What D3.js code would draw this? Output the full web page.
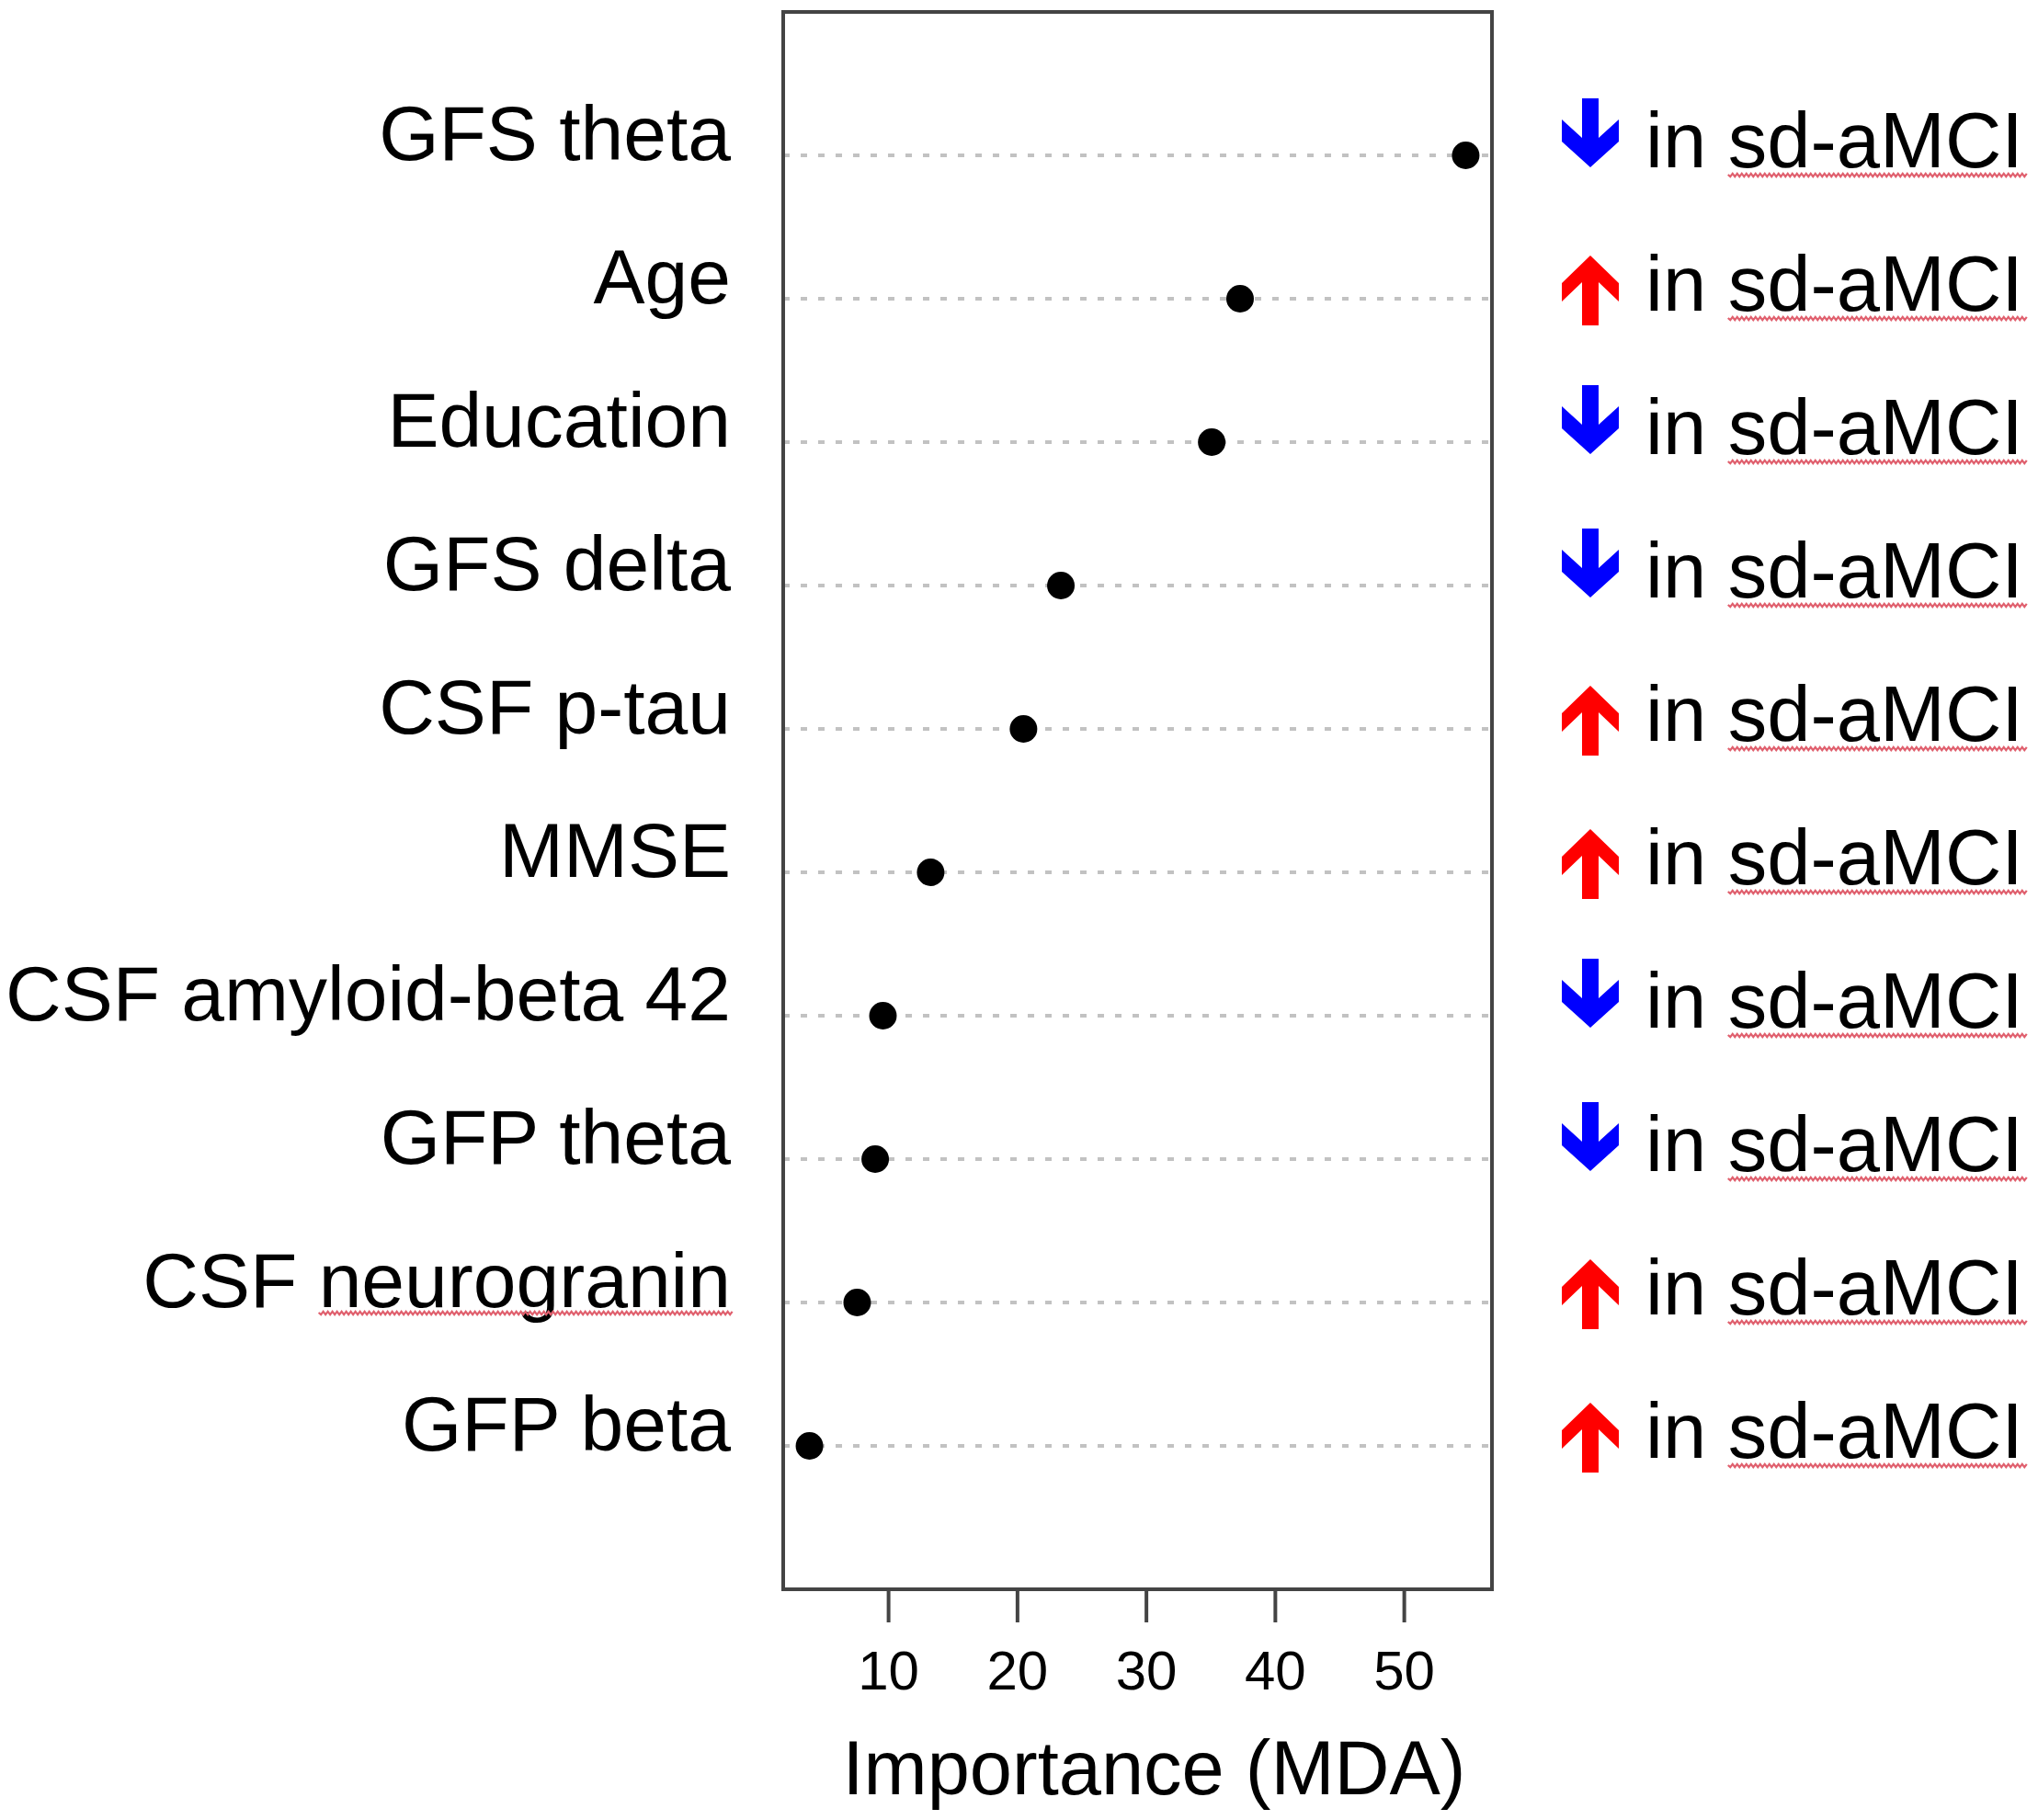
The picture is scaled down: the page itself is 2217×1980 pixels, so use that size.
<!DOCTYPE html>
<html>
<head>
<meta charset="utf-8">
<script src="https://cdn.jsdelivr.net/npm/d3@7"></script>
<style>
    body { margin: 0; background: #fff; }
    text { font-family: "Liberation Sans", Arial, sans-serif; fill: #000; }
</style>
</head>
<body>
<div id="grafico"></div>
<script>
// valores (dotchart de importancia)
const features = ["GFS theta", "Age", "Education", "GFS delta", "CSF p-tau", "MMSE",
    "CSF amyloid-beta 42", "GFP theta", "CSF neurogranin", "GFP beta"];
const importance = [54.8, 37.3, 35.1, 23.4, 20.5, 13.3, 9.6, 9.0, 7.6, 3.9];
const direction = ["down", "up", "down", "down", "up", "up", "down", "down", "up", "up"];
const tickValues = [10, 20, 30, 40, 50];
const axisTitle = "Importance (MDA)";
const groupLabel = "in sd-aMCI";

document.addEventListener('DOMContentLoaded', () => {
    const width = 2217;
    const height = 1980;
    const box = { left: 852, right: 1623, top: 13, bottom: 1729 };
    const n = features.length;

    const svg = d3.select('#grafico')
        .append('svg')
        .attr('width', width)
        .attr('height', height);

    svg.append('rect').attr('width', width).attr('height', height).attr('fill', '#fff');

    // como en R: rango de datos extendido un 4%
    const [lo, hi] = d3.extent(importance);
    const ext = (hi - lo) * 0.04;
    const xScale = d3.scaleLinear()
        .domain([lo - ext, hi + ext])
        .range([box.left, box.right]);

    // filas 1..n de abajo hacia arriba, limites 0 y n+1
    const yScale = d3.scaleLinear()
        .domain([0, n + 1])
        .range([box.bottom, box.top]);

    const rowY = (i) => yScale(n - i);

    // lineas punteadas
    svg.selectAll('line.guide')
        .data(features)
        .enter()
        .append('line')
        .attr('class', 'guide')
        .attr('x1', box.left)
        .attr('x2', box.right)
        .attr('y1', (d, i) => rowY(i))
        .attr('y2', (d, i) => rowY(i))
        .attr('stroke', '#c2c2c2')
        .attr('stroke-width', 4)
        .attr('stroke-dasharray', '7 12');

    // marco
    svg.append('rect')
        .attr('x', box.left)
        .attr('y', box.top)
        .attr('width', box.right - box.left)
        .attr('height', box.bottom - box.top)
        .attr('fill', 'none')
        .attr('stroke', '#444')
        .attr('stroke-width', 4);

    // puntos
    svg.selectAll('circle')
        .data(importance)
        .enter()
        .append('circle')
        .attr('cx', d => xScale(d))
        .attr('cy', (d, i) => rowY(i))
        .attr('r', 15)
        .attr('fill', '#000');

    // eje x
    const xAxis = d3.axisBottom(xScale)
        .tickValues(tickValues)
        .tickSize(36)
        .tickPadding(30);

    const gx = svg.append('g')
        .attr('transform', `translate(0, ${box.bottom})`)
        .call(xAxis);
    gx.select('.domain').remove();
    gx.selectAll('.tick line').attr('stroke', '#444').attr('stroke-width', 4);
    gx.selectAll('.tick text')
        .attr('font-size', 60)
        .attr('font-family', '"Liberation Sans", Arial, sans-serif')
        .attr('fill', '#000');

    svg.append('text')
        .attr('x', (box.left + box.right) / 2 + 18)
        .attr('y', 1952)
        .attr('text-anchor', 'middle')
        .attr('font-size', 83)
        .text(axisTitle);

    // squiggle de corrector ortografico
    function squiggle(x0, x1, y) {
        let p = `M${x0},${y}`;
        let k = 0;
        for (let x = x0 + 2.5; x <= x1; x += 2.5, k++) {
            p += `L${x},${y + (k % 2 === 0 ? 2.2 : -1.2)}`;
        }
        svg.append('path')
            .attr('d', p)
            .attr('fill', 'none')
            .attr('stroke', '#e0606e')
            .attr('stroke-width', 2.2);
    }

    // etiquetas de la izquierda
    const labels = svg.selectAll('text.label')
        .data(features)
        .enter()
        .append('text')
        .attr('class', 'label')
        .attr('x', 795)
        .attr('y', (d, i) => rowY(i) + 5)
        .attr('text-anchor', 'end')
        .attr('font-size', 84)
        .text(d => d);

    labels.each(function (d, i) {
        if (d === "CSF neurogranin") {
            const a = this.getStartPositionOfChar(4).x;
            const b = this.getEndPositionOfChar(d.length - 1).x;
            squiggle(a, b + 4, rowY(i) + 11);
        }
    });

    // flechas y texto a la derecha
    const arrowX = 1730;
    const upArrow = "M0,-47L31,-17L31,3L9,-18L9,29L-9,29L-9,-18L-31,3L-31,-17Z";
    const downArrow = "M-9,-62L9,-62L9,-19L31,-39L31,-15L0,13L-31,-15L-31,-39L-9,-19Z";

    svg.selectAll('path.arrow')
        .data(direction)
        .enter()
        .append('path')
        .attr('class', 'arrow')
        .attr('d', d => d === 'up' ? upArrow : downArrow)
        .attr('transform', (d, i) => `translate(${arrowX}, ${rowY(i)})`)
        .attr('fill', d => d === 'up' ? '#ff0000' : '#0000ff');

    const words = groupLabel.split(' ');
    const right = svg.selectAll('text.group')
        .data(direction)
        .enter()
        .append('text')
        .attr('class', 'group')
        .attr('x', 1790)
        .attr('y', (d, i) => rowY(i) + 13)
        .attr('font-size', 85)
        .text(groupLabel);

    right.each(function (d, i) {
        const start = words[0].length + 1;
        const a = this.getStartPositionOfChar(start).x;
        const b = this.getEndPositionOfChar(groupLabel.length - 1).x;
        squiggle(a, b + 6, rowY(i) + 21);
    });
});
</script>
</body>
</html>
